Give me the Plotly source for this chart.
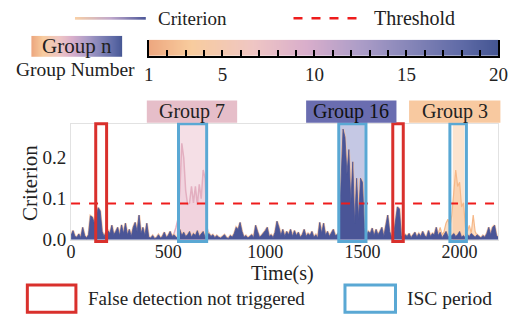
import plotly.graph_objects as go

# ---------------- data ----------------
time = list(range(0, 2201, 10))
criterion = [
    0.010, 0.022, 0.008, 0.006, 0.014, 0.005, 0.030, 0.010, 0.004, 0.012,
    0.058, 0.055, 0.040, 0.060, 0.078, 0.070, 0.020, 0.008, 0.018, 0.022,
    0.015, 0.035, 0.012, 0.020, 0.030, 0.010, 0.036, 0.015, 0.040, 0.012,
    0.025, 0.008, 0.030, 0.042, 0.020, 0.060, 0.015, 0.030, 0.010, 0.040,
    0.006, 0.004, 0.010, 0.003, 0.005, 0.012, 0.004, 0.008, 0.018, 0.006,
    0.010, 0.020, 0.008, 0.012, 0.006, 0.004, 0.025, 0.010, 0.018, 0.008,
    0.012, 0.020, 0.006, 0.015, 0.010, 0.022, 0.008, 0.014, 0.020, 0.006,
    0.010, 0.015, 0.008, 0.012, 0.005, 0.010, 0.006, 0.004, 0.008, 0.012,
    0.005, 0.003, 0.010, 0.006, 0.015, 0.030, 0.025, 0.042, 0.020, 0.006,
    0.010, 0.004, 0.008, 0.012, 0.005, 0.035, 0.020, 0.006, 0.010, 0.015,
    0.022, 0.030, 0.008, 0.012, 0.005, 0.018, 0.045, 0.030, 0.010, 0.025,
    0.008, 0.020, 0.012, 0.025, 0.008, 0.022, 0.010, 0.018, 0.006, 0.012,
    0.025, 0.008, 0.015, 0.010, 0.020, 0.006, 0.012, 0.004, 0.042, 0.015,
    0.040, 0.010, 0.020, 0.008, 0.015, 0.025, 0.010, 0.012, 0.020, 0.150,
    0.270, 0.250, 0.160, 0.220, 0.090, 0.190, 0.040, 0.150, 0.050, 0.150,
    0.140, 0.030, 0.010, 0.020, 0.015, 0.028, 0.010, 0.025, 0.012, 0.020,
    0.030, 0.008, 0.035, 0.060, 0.020, 0.006, 0.010, 0.040, 0.080, 0.075,
    0.010, 0.004, 0.012, 0.008, 0.015, 0.005, 0.012, 0.018, 0.006, 0.015,
    0.008, 0.020, 0.010, 0.006, 0.022, 0.008, 0.015, 0.012, 0.030, 0.010,
    0.018, 0.005, 0.012, 0.020, 0.008, 0.006, 0.010, 0.015, 0.008, 0.012,
    0.020, 0.006, 0.010, 0.004, 0.012, 0.008, 0.015, 0.010, 0.006, 0.012,
    0.008, 0.004, 0.010, 0.006, 0.015, 0.030, 0.012, 0.030, 0.035, 0.010,
    0.005,
]
group7_time = [520, 530, 540, 550, 560, 570, 580, 590, 600, 610, 620, 630,
               640, 650, 660, 670, 680, 690, 700, 710]
group7_vals = [0.005, 0.015, 0.030, 0.050, 0.120, 0.235, 0.200, 0.120, 0.085,
               0.090, 0.130, 0.090, 0.130, 0.085, 0.135, 0.100, 0.170, 0.150,
               0.030, 0.010]
group3_time = [1860, 1870, 1880, 1890, 1900, 1910, 1920, 1930, 1940, 1950,
               1960, 1970, 1980, 1990, 2000, 2010, 2020, 2030, 2040, 2050,
               2060, 2070, 2080, 2090, 2100]
group3_vals = [0.005, 0.010, 0.020, 0.015, 0.030, 0.012, 0.020, 0.040, 0.050,
               0.030, 0.060, 0.120, 0.170, 0.130, 0.140, 0.080, 0.090, 0.030,
               0.020, 0.035, 0.015, 0.060, 0.020, 0.010, 0.005]
threshold = 0.088
group_numbers = list(range(1, 21))
group_ticktext = ["1", "", "", "", "5", "", "", "", "", "10", "", "", "", "",
                  "15", "", "", "", "", "20"]
false_periods = [(127, 183), (1656, 1710)]
isc_periods = [(553, 698), (1378, 1518), (1950, 2035)]
shade_periods = [(560, 692, "rgba(236,196,210,0.55)"),
                 (1385, 1512, "rgba(150,155,205,0.55)"),
                 (1965, 2025, "rgba(250,206,168,0.55)")]
group_labels = [("Group 7", 146, 239, "#e6bec9", "#222"),
                ("Group 16", 310, 403, "#6a6db0", "#111"),
                ("Group 3", 416, 510, "#f8c9a0", "#222")]

# ---------------- helpers ----------------
W, H = 524, 328
FONT = "Liberation Serif"


def px(x):
    return x / W


def py(y):
    return 1 - y / H


CS = [[0.0, "#eda77f"], [0.12, "#f8cc9e"], [0.3, "#efc6c4"],
      [0.45, "#d9aecb"], [0.6, "#ae9ec8"], [0.75, "#8585b8"],
      [0.9, "#5e6aa6"], [1.0, "#445592"]]
BLUE = "#4a5597"

fig = go.Figure()

# group-specific criterion curves
fig.add_trace(go.Scatter(x=group7_time, y=group7_vals, mode="lines",
                         line=dict(color="#e3afc0", width=1.5),
                         fill="tozeroy", fillcolor="rgba(236,190,206,0.35)",
                         showlegend=False, hoverinfo="skip"))
fig.add_trace(go.Scatter(x=group3_time, y=group3_vals, mode="lines",
                         line=dict(color="#f6b888", width=1.2),
                         fill="tozeroy", fillcolor="rgba(248,192,145,0.5)",
                         showlegend=False, hoverinfo="skip"))
# light tips then blue main criterion
fig.add_trace(go.Scatter(x=time, y=criterion, mode="lines",
                         line=dict(color="#f3c2a2", width=2.2),
                         showlegend=False, hoverinfo="skip"))
fig.add_trace(go.Scatter(x=time, y=criterion, mode="lines",
                         line=dict(color=BLUE, width=0.8),
                         fill="tozeroy", fillcolor=BLUE,
                         showlegend=False, hoverinfo="skip"))

# colour bar (group number)
fig.add_trace(go.Heatmap(z=[group_numbers], x=group_numbers, y=[0],
                         colorscale=CS, showscale=False, zsmooth="best",
                         xaxis="x2", yaxis="y2", hoverinfo="skip"))
# "Group n" gradient box
fig.add_trace(go.Heatmap(z=[group_numbers], x=group_numbers, y=[0],
                         colorscale=CS, showscale=False, zsmooth="best",
                         xaxis="x3", yaxis="y3", hoverinfo="skip"))
# Criterion legend gradient line
fig.add_trace(go.Heatmap(z=[group_numbers], x=group_numbers, y=[0],
                         colorscale=[[0, "#f8cfa6"], [0.5, "#c0a8cc"], [1, BLUE]],
                         showscale=False, zsmooth="best",
                         xaxis="x4", yaxis="y4", hoverinfo="skip"))

shapes = []
for (a, b, c) in shade_periods:
    shapes.append(dict(type="rect", xref="x", yref="paper", x0=a, x1=b,
                       y0=py(248), y1=py(128), fillcolor=c, line_width=0,
                       layer="below"))
shapes.append(dict(type="line", xref="paper", yref="y", x0=px(68), x1=px(508),
                   y0=threshold, y1=threshold,
                   line=dict(color="#ee1c1c", width=2, dash="dash")))
for (a, b) in false_periods:
    shapes.append(dict(type="rect", xref="x", yref="paper", x0=a, x1=b,
                       y0=py(250), y1=py(128),
                       line=dict(color="#d9302c", width=3)))
for (a, b) in isc_periods:
    shapes.append(dict(type="rect", xref="x", yref="paper", x0=a, x1=b,
                       y0=py(250), y1=py(128),
                       line=dict(color="#5aa8d4", width=3)))
# group labels boxes
annotations = []
for (t, x0, x1, c, fc) in group_labels:
    shapes.append(dict(type="rect", xref="paper", yref="paper",
                       x0=px(x0), x1=px(x1), y0=py(127), y1=py(104),
                       fillcolor=c, line_width=0))
    annotations.append(dict(text=t, x=px((x0 + x1) / 2), y=py(115.5),
                            xref="paper", yref="paper", showarrow=False,
                            xanchor="center", yanchor="middle",
                            font=dict(size=20, color=fc, family=FONT)))
# top legend
shapes.append(dict(type="line", xref="paper", yref="paper", x0=px(297),
                   x1=px(369), y0=py(19), y1=py(19),
                   line=dict(color="#ee1c1c", width=2.5, dash="dash")))
# bottom legend
shapes.append(dict(type="rect", xref="paper", yref="paper", x0=px(23),
                   x1=px(73), y0=py(323), y1=py(295),
                   line=dict(color="#d9302c", width=3)))
shapes.append(dict(type="rect", xref="paper", yref="paper", x0=px(350),
                   x1=px(402), y0=py(323), y1=py(295),
                   line=dict(color="#5aa8d4", width=3)))

texts = [
    ("Criterion", 155, 19, "left", 19, 0),
    ("Threshold", 378, 19, "left", 20, 0),
    ("Group n", 74, 48, "center", 21, 0),
    ("Group Number", 73, 72, "center", 19.5, 0),
    ("False detection not triggered", 83, 309, "left", 19, 0),
    ("ISC period", 412, 309, "left", 19.5, 0),
    ("Time(s)", 286, 283, "center", 20, 0),
    ("Criterion", 25, 189, "center", 21, -90),
]
for (t, x, y, al, s, ang) in texts:
    annotations.append(dict(text=t, x=px(x), y=py(y), xref="paper",
                            yref="paper", showarrow=False, xanchor=al,
                            yanchor="middle", textangle=ang,
                            font=dict(size=s, color="#222", family=FONT)))

fig.update_layout(
    width=W, height=H, margin=dict(l=0, r=0, t=0, b=0),
    paper_bgcolor="white", plot_bgcolor="white", showlegend=False,
    font=dict(family=FONT, color="#222"),
    shapes=shapes, annotations=annotations,
    xaxis=dict(domain=[px(68), px(508)], range=[0, 2200],
               tickvals=[0, 500, 1000, 1500, 2000], ticks="",
               ticklabelstandoff=-4,
               showline=True, mirror=True, linecolor="#e2e2e2",
               showgrid=False, zeroline=False, tickfont=dict(size=18),
               anchor="y"),
    yaxis=dict(domain=[py(248), py(128)], range=[0, 0.283],
               tickvals=[0, 0.1, 0.2], ticktext=["0.0", "0.1", "0.2"],
               ticks="", showline=True, mirror=True, linecolor="#e2e2e2",
               showgrid=False, zeroline=False, tickfont=dict(size=19),
               anchor="x"),
    xaxis2=dict(domain=[px(148), px(508)], range=[1, 20],
                tickvals=group_numbers, ticktext=group_ticktext,
                ticks="inside", ticklen=6, tickwidth=1.5, tickcolor="black",
                showline=True, linecolor="black", linewidth=1.5,
                showgrid=False, zeroline=False, tickfont=dict(size=19),
                anchor="y2"),
    yaxis2=dict(domain=[py(58), py(41)], range=[-0.5, 0.5],
                showticklabels=False, ticks="", showline=True, mirror=True,
                linecolor="black", linewidth=1.5, showgrid=False,
                zeroline=False, anchor="x2"),
    xaxis3=dict(domain=[px(27), px(121)], range=[1, 20], visible=False,
                anchor="y3"),
    yaxis3=dict(domain=[py(59), py(37)], range=[-0.5, 0.5], visible=False,
                anchor="x3"),
    xaxis4=dict(domain=[px(72), px(145)], range=[1, 20], visible=False,
                anchor="y4"),
    yaxis4=dict(domain=[py(20.5), py(17.5)], range=[-0.5, 0.5],
                visible=False, anchor="x4"),
)

fig.write_html("out.html")
